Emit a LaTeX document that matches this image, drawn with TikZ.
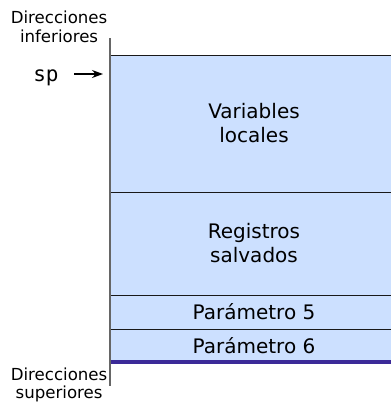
\documentclass[tikz,border=0pt]{standalone}
\usepackage{fontspec}
\setmainfont{DejaVu Sans}
\setmonofont{DejaVu Sans Mono}
\usetikzlibrary{arrows.meta,positioning}
\definecolor{slotblue}{HTML}{CCE0FF}
\definecolor{stackend}{HTML}{3B2A98}
\tikzset{
  slot/.style={fill=slotblue},                                  % stack slot
  sepline/.style={black!90,line width=0.9pt},                   % slot boundary
  lbl/.style={font=\fontsize{20}{24}\selectfont,align=center},
  dirlbl/.style={font=\fontsize{16.6}{18.5}\selectfont,align=center,inner sep=0pt},
  axis/.style={gray!80!black,line width=1.2pt},
  ptr/.style={-{Stealth[length=11pt,width=8pt]},line width=1.1pt},
}
\newcommand{\stackslot}[4]{% top, bottom, name, text
  \fill[slot] (110,#1) rectangle (391,#2);
  \node[lbl] (#3) at (254,{(#1+#2)/2}) {#4};
}

\begin{document}
\begin{tikzpicture}[x=1pt,y=-1pt]
  \useasboundingbox (0,0) rectangle (391,402);
  \stackslot{55}{192}{varloc}{Variables\\locales}
  \stackslot{192}{295}{regsav}{Registros\\salvados}
  \stackslot{295}{329}{param5}{Parámetro 5}
  \stackslot{329}{362}{param6}{Parámetro 6}
  \draw[sepline] (110,55) -- (391,55);
  \foreach \y in {192,295,329} \draw[sepline] (110,\y) -- (391,\y);
  \draw[stackend,line width=4pt] (110,362) -- (391,362);
  \draw[axis] (110,38) -- (110,386);
  \node[dirlbl,anchor=east] (dirinf) at (107.5,27) {Direcciones\\inferiores};
  \node[dirlbl,anchor=east] (dirsup) at (107.5,385) {Direcciones\\superiores};
  \node[font=\fontsize{21}{24}\ttfamily] (sp) at (46,78) {sp};
  \coordinate (sptip) at (103,74);
  \draw[ptr] ([xshift=12pt]sp.east |- sptip) -- (sptip);
\end{tikzpicture}
\end{document}
